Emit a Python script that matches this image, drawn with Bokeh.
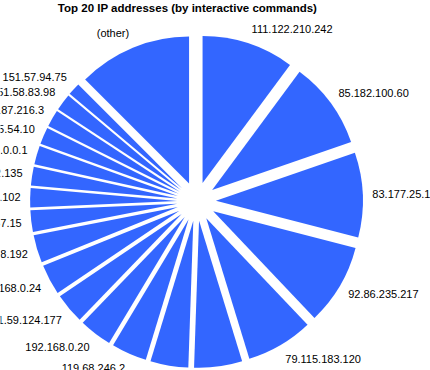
import numpy as np
from bokeh.plotting import figure
from bokeh.models import ColumnDataSource, Range1d
from bokeh.embed import file_html
from bokeh.resources import INLINE
from bokeh.core.properties import value

# ---- data (clockwise from 12 o'clock) ----
chart_title = "Top 20 IP addresses (by interactive commands)"
addresses = ["111.122.210.242", "85.182.100.60", "83.177.25.17", "92.86.235.217",
             "79.115.183.120", "", "", "119.68.246.2", "192.168.0.20",
             "1.59.124.177", ".168.0.24", ".8.192", "57.15", "3.102", "2.135",
             "7.0.0.1", "45.54.10", "187.216.3", "51.58.83.98", "151.57.94.75",
             "(other)"]
shares = [36.5, 34.5, 33.5, 32.0, 26.5, 19.0, 15.0, 14.0, 13.0, 12.0, 12.0,
          11.0, 8.6, 7.6, 7.4, 7.4, 6.7, 6.7, 6.7, 5.0, 45.0]

# ---- layout / style ----
W, H = 430, 370
CX, CY = 196, H - 201         # pie centre (data coords, y up)
RADIUS = 147
EXPLODE = 19.4
LABEL_R = 176
HALF_H = 5.5
BLUE = "#3366ff"
FONT = "Liberation Sans"

vals = np.array(shares, dtype=float)
span = vals / vals.sum() * 360.0
top = 90.0 - np.concatenate([[0.0], np.cumsum(span)[:-1]])
bot = top - span
mid = (top + bot) / 2.0
mr = np.radians(mid)

src = ColumnDataSource(dict(
    x=CX + EXPLODE * np.cos(mr),
    y=CY + EXPLODE * np.sin(mr),
    start=np.radians(bot), end=np.radians(top),
))

p = figure(width=W, height=H, x_range=Range1d(0, W), y_range=Range1d(0, H),
           output_backend="svg", toolbar_location=None, min_border=0,
           x_axis_location=None, y_axis_location=None)
p.grid.visible = False
p.outline_line_color = None
p.background_fill_color = "white"

p.wedge(x="x", y="y", radius=RADIUS, start_angle="start", end_angle="end",
        direction="anticlock", source=src,
        fill_color=BLUE, line_color=None)

# labels
elev = np.degrees(np.arcsin(np.sin(mr)))
f = np.clip(elev / 45.0, -1, 1)
lx = CX + LABEL_R * np.cos(mr)
ly = CY + LABEL_R * np.sin(mr) + HALF_H * f
left = dict(x=[], y=[], t=[])
right = dict(x=[], y=[], t=[])
for i, lab in enumerate(addresses):
    if not lab:
        continue
    d = left if np.cos(mr[i]) >= 0 else right
    d["x"].append(lx[i]); d["y"].append(ly[i]); d["t"].append(lab)

p.text(x="x", y="y", text="t", source=ColumnDataSource(left), text_align="left",
       text_baseline="middle", text_font=value(FONT), text_font_size="11px", text_color="black")
p.text(x="x", y="y", text="t", source=ColumnDataSource(right), text_align="right",
       text_baseline="middle", text_font=value(FONT), text_font_size="11px", text_color="black")

p.text(x=[187], y=[H - 7], text=[chart_title], text_align="center", text_baseline="middle",
       text_font=value(FONT), text_font_size="11.5px", text_font_style="bold", text_color="black")

open("out.html", "w").write(file_html(p, INLINE))
